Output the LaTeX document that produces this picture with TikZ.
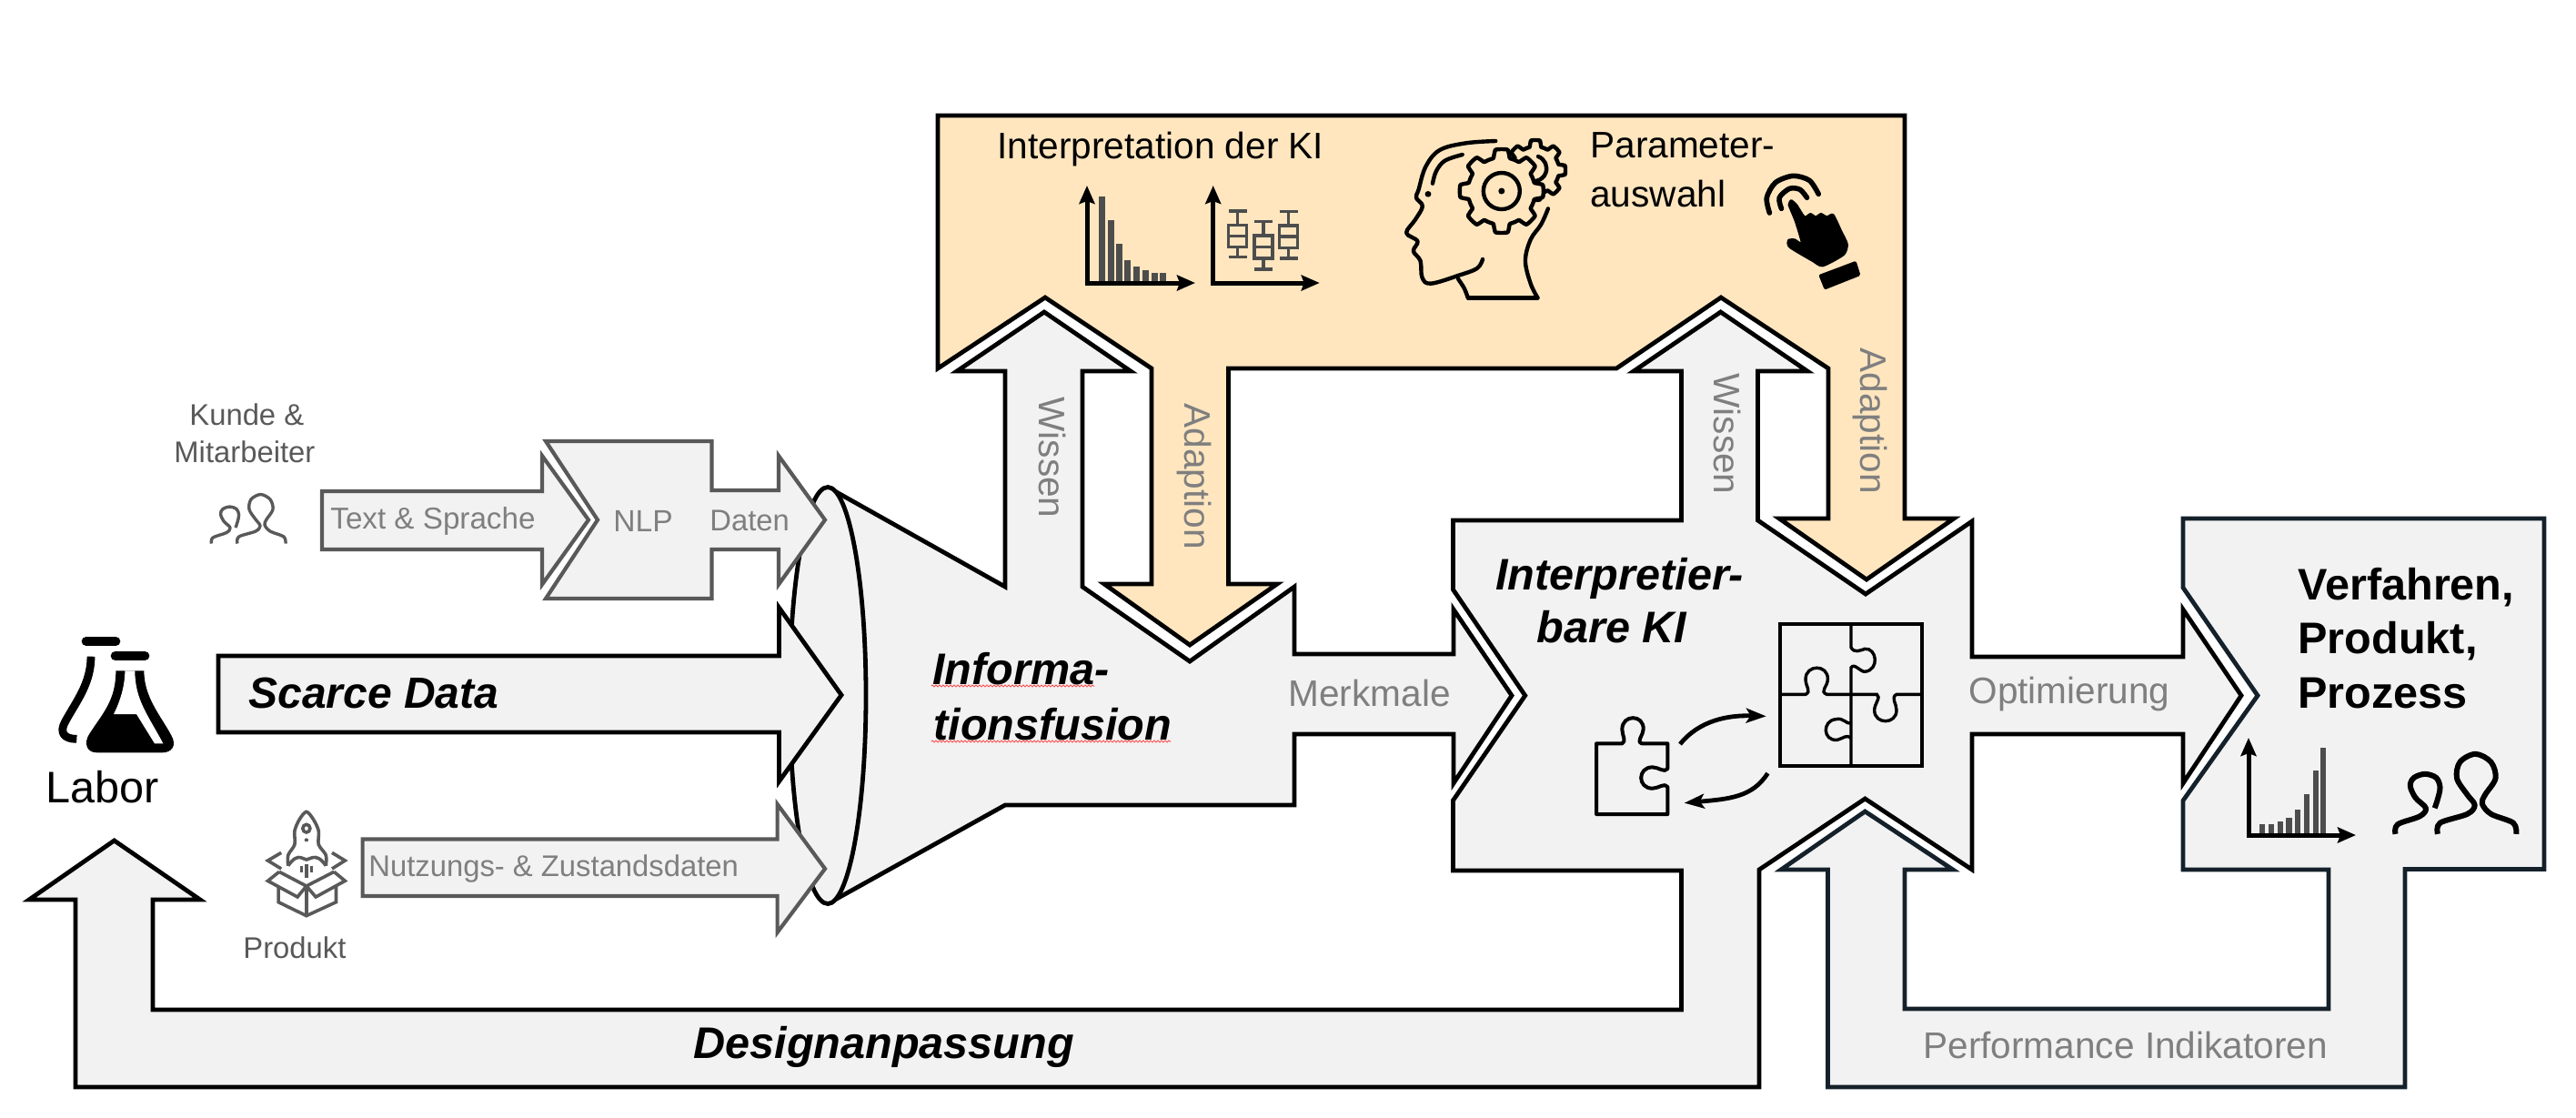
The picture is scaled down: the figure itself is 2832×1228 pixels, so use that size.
\documentclass[tikz,border=0pt]{standalone}
\usepackage{fontspec}
\setmainfont{Liberation Sans}
\usetikzlibrary{arrows.meta,decorations.pathmorphing}
\definecolor{oran}{HTML}{FFE6BF}
\definecolor{pale}{HTML}{F2F2F2}
\definecolor{dgrey}{HTML}{595959}
\definecolor{lgrey}{HTML}{7F7F7F}
\definecolor{navy}{HTML}{14212B}
\definecolor{barc}{HTML}{4D4D4D}
\definecolor{wave}{HTML}{FF4D4D}
\newcommand{\fsz}[1]{\fontsize{#1}{#1}\selectfont}
\tikzset{
  bigshape/.style={draw=black,line width=2.4pt,miter limit=20},
  greyshape/.style={draw=dgrey,fill=pale,line width=2.1pt,miter limit=20},
  txt/.style={inner sep=0pt,anchor=base west},
  big/.style={txt,font=\fsz{24.3}\bfseries\itshape,text=black},
  mid/.style={txt,font=\fsz{20.3},text=black},
  midg/.style={txt,font=\fsz{20.3},text=lgrey},
  smallg/.style={txt,font=\fsz{16.4},text=lgrey},
  smalld/.style={txt,font=\fsz{16.4},text=dgrey},
  axis/.style={line width=2.5pt,-{Stealth[length=10pt,width=8.5pt,inset=1.5pt]}},
  bar/.style={draw=none,fill=barc},
  boxp/.style={draw=barc,line width=1.6pt},
  icon/.style={draw=black,line width=2.2pt,line cap=round,line join=round},
  squig/.style={draw=wave,line width=0.5pt,decorate,decoration={zigzag,segment length=2pt,amplitude=0.5pt}}
}
\newcommand{\gearicon}[4]{%
  \draw[icon,fill=oran] plot[domain=0:360,samples=241,variable=\t]
   ({#1+(#4+(#3-#4)*max(0,min(1,0.5+1.4*cos(8*\t))))*cos(\t)},
    {#2+(#4+(#3-#4)*max(0,min(1,0.5+1.4*cos(8*\t))))*sin(\t)}) -- cycle;}
\newcommand{\peopleicon}[5]{%
  \begin{scope}[shift={(#1,#2)},scale=#3]
  \draw[draw=#4,line width=#5,line cap=butt,line join=round] plot[smooth,tension=0.55] coordinates
   {(30,54.5) (31.6,47) (50,41) (55,35) (50,28) (43,17) (45,6) (55.5,0.5) (66,6) (69,17) (62,28) (60,34) (66,41) (81,47) (83,54.5)};
  \draw[draw=#4,line width=#5,line cap=butt,line join=round] plot[smooth,tension=0.55] coordinates
   {(1.5,54.5) (3,48) (18,42.5) (22,37) (15,30) (11.5,22) (14,16.5) (21.5,14) (29,16.5) (31.6,23) (30,31) (28,37)};
  \end{scope}}
\begin{document}
\begin{tikzpicture}[x=0.5pt,y=-0.5pt]
\useasboundingbox (0,0) rectangle (2832,1228);

% orange adaptation block
\draw[bigshape,fill=oran] (1031,127) -- (2094,127) -- (2094,570) -- (2148,570) -- (2052,637) -- (1956,570) -- (2010,570) -- (2010,405) -- (1892,327) -- (1777,405) -- (1350.5,405) -- (1350.5,642) -- (1404,642) -- (1308,709) -- (1214,642) -- (1266,642) -- (1266,405) -- (1149,327) -- (1031,405) -- cycle;

% funnel with Wissen and Merkmale
\fill[pale] (909,535) -- (1105,645) -- (1105,408) -- (1052,408) -- (1148,343) -- (1243,408) -- (1190,408) -- (1190,645) -- (1308,727) -- (1423,645) -- (1423,719) -- (1598,719) -- (1598,670) -- (1662,764.6) -- (1598,861) -- (1598,807) -- (1423,807) -- (1423,885) -- (1105,885) -- (909,994) -- cycle;
\draw[bigshape] (909,535) -- (1105,645) -- (1105,408) -- (1052,408) -- (1148,343) -- (1243,408) -- (1190,408) -- (1190,645) -- (1308,727) -- (1423,645) -- (1423,719) -- (1598,719) -- (1598,670) -- (1662,764.6) -- (1598,861) -- (1598,807) -- (1423,807) -- (1423,885) -- (1105,885) -- (909,994);
\draw[bigshape,fill=pale] (910,764.5) ellipse [x radius=42,y radius=229];

% input arrows
\draw[bigshape,fill=pale] (240,721) -- (856.5,721) -- (856.5,668) -- (925,764) -- (856.5,859) -- (856.5,805) -- (240,805) -- cycle;
\draw[greyshape] (354,540) -- (596,540) -- (596,501) -- (647,571.5) -- (596,642.5) -- (596,604) -- (354,604) -- cycle;
\draw[greyshape] (600,485) -- (782.5,485) -- (782.5,539) -- (856,539) -- (856,501) -- (907,571.5) -- (856,642.5) -- (856,604) -- (782.5,604) -- (782.5,658) -- (600,658) -- (657,571.5) -- cycle;
\draw[greyshape] (398.6,922.5) -- (854.6,922.5) -- (854.6,884) -- (907,955) -- (854.6,1025) -- (854.6,985) -- (398.6,985) -- cycle;

% interpretable AI block with design feedback
\draw[bigshape,fill=pale] (1597.4,572) -- (1848.5,572) -- (1848.5,408) -- (1796,408) -- (1891.6,343) -- (1987,408) -- (1932.5,408) -- (1932.5,572) -- (2051,653) -- (2168,573) -- (2168,722) -- (2400,722) -- (2400,670) -- (2464,764.6) -- (2400,861) -- (2400,807) -- (2168,807) -- (2168,956) -- (2050.4,878) -- (1934,956) -- (1934,1195) -- (83,1195) -- (83,989) -- (32,989) -- (125.6,924) -- (220,989) -- (168,989) -- (168,1110) -- (1848.5,1110) -- (1848.5,957) -- (1597.4,957) -- (1597.4,880) -- (1676.7,764.6) -- (1597.4,648) -- cycle;

% result block with performance feedback
\draw[bigshape,draw=navy,fill=pale] (2050.4,892) -- (2147,956) -- (2094,956) -- (2094,1109) -- (2560,1109) -- (2560,956) -- (2400,956) -- (2400,880) -- (2482,764.6) -- (2400,646) -- (2400,570) -- (2797,570) -- (2797,955.4) -- (2644,955.4) -- (2644,1195) -- (2009.5,1195) -- (2009.5,956) -- (1958,956) -- cycle;

% labels
\node[big,font=\fsz{24}\bfseries\itshape] (scarce) at (273,778) {Scarce Data};
\node[big] (info1) at (1025,752) {Informa-};
\node[big] (info2) at (1026,813) {tionsfusion};
\draw[squig] (1024,754) -- (1203,754);
\draw[squig] (1024,815) -- (1287,815);
\node[big] (ki1) at (1644,648) {Interpretier-};
\node[big] (ki2) at (1689,706) {bare KI};
\node[big] (design) at (762,1163) {Designanpassung};
\node[txt,font=\fsz{24.3}\bfseries] (res1) at (2526,659) {Verfahren,};
\node[txt,font=\fsz{24.3}\bfseries] (res2) at (2526,718) {Produkt,};
\node[txt,font=\fsz{24.3}\bfseries] (res3) at (2526,778) {Prozess};
\node[txt,font=\fsz{24.3}] (labor) at (50,882) {Labor};
\node[mid] (interp) at (1096,174) {Interpretation der KI};
\node[mid] (para1) at (1748,173) {Parameter-};
\node[mid] (para2) at (1748,227) {auswahl};
\node[midg,rotate=-90] (wis1) at (1142,436) {Wissen};
\node[midg,rotate=-90] (ada1) at (1302,443) {Adaption};
\node[midg,rotate=-90] (wis2) at (1884,410) {Wissen};
\node[midg,rotate=-90] (ada2) at (2045,382) {Adaption};
\node[midg] (merk) at (1416,776) {Merkmale};
\node[midg] (opti) at (2164,773) {Optimierung};
\node[midg] (perf) at (2114,1163) {Performance Indikatoren};
\node[smallg,font=\fsz{16.6}] (text) at (363,581) {Text \& Sprache};
\node[smallg,font=\fsz{16.8}] (nlp) at (674,584) {NLP};
\node[smallg] (daten) at (780,583) {Daten};
\node[smallg] (nutz) at (405,963) {Nutzungs- \& Zustandsdaten};
\node[smalld] (kunde) at (208,467) {Kunde \&};
\node[smalld] (mitar) at (191,508) {Mitarbeiter};
\node[smalld] (prod) at (267,1053) {Produkt};

% chart: decay
\foreach \bx/\by in {214/78,244/155,271/235,298/287,328/310,358/322,388/330,415/330}
  \fill[bar] ({1140+\bx/3-3.5},{190+\by/3}) rectangle ({1140+\bx/3+3.5},311);
\draw[axis] (1195,311) -- (1195,204);
\draw[axis] (1192.5,311) -- (1314,311);
% chart: box plots
\foreach \cx/\capt/\boxt/\boxm/\boxb/\capb in {1360.7/232/247.3/259.3/271.7/282.7,1389/243.7/259/271.7/284/296,1416.7/232.7/248/260/272.7/284}{
  \draw[boxp] (\cx-10,\capt) -- (\cx+10,\capt) (\cx,\capt) -- (\cx,\boxt)
     (\cx-10,\boxt) rectangle (\cx+10,\boxb) (\cx-10,\boxm) -- (\cx+10,\boxm)
     (\cx,\boxb) -- (\cx,\capb) (\cx-10,\capb) -- (\cx+10,\capb);
}
\draw[axis] (1333.7,311) -- (1333.7,204);
\draw[axis] (1331,311) -- (1450.7,311);

% head with gears
\begin{scope}[shift={(1500,130)},x=0.1923pt,y=-0.16667pt]
\draw[icon] plot[smooth,tension=0.6] coordinates {(375,75) (290,82) (215,105) (175,160) (155,235) (148,262) (166,290) (145,335) (120,378) (152,405) (140,438) (160,470) (165,525) (190,545) (270,518) (322,495) (338,465)};
\draw[icon] plot[smooth,tension=0.6] coordinates {(280,120) (230,140) (205,175) (195,215)};
\draw[icon] plot[smooth,tension=0.6] coordinates {(525,298) (505,350) (475,400) (460,470) (475,545) (495,592)};
\draw[icon] plot[smooth] coordinates {(268,530) (285,560) (296,592)};
\draw[icon] (296,592) -- (495,592);
\fill (182,250) ellipse [x radius=9,y radius=10];
\end{scope}
\gearicon{1688}{187}{33}{26}
\draw[icon] (1691,172) arc (-70:80:14);
\gearicon{1650.8}{210}{46}{37}
\draw[icon] (1650.8,210) circle (20);
\fill (1650.8,210) circle (3.5);

% pointing hand
\begin{scope}[shift={(1500,130)},x=0.1923pt,y=-0.16667pt]
\draw[icon,line width=2.8pt] plot[smooth] coordinates {(1158,312) (1150,262) (1175,212) (1225,190) (1272,205) (1298,250)};
\draw[icon,line width=2.8pt] plot[smooth] coordinates {(1192,298) (1186,262) (1215,232) (1245,235) (1265,262)};
\fill[line join=round,draw=black,line width=1pt] plot[smooth,tension=0.4] coordinates {(1220,270) (1235,285) (1258,325) (1275,315) (1290,325) (1305,315) (1322,325) (1340,318) (1362,370) (1380,415) (1370,450) (1310,487) (1280,470) (1215,425) (1212,402) (1230,400) (1250,412) (1232,340) (1213,285) (1220,270)};
\fill[draw=black,line join=round,line width=2pt] (1305,520) -- (1402,478) -- (1412,515) -- (1318,558) -- cycle;
\end{scope}

% flasks
\begin{scope}[shift={(20,680)},x=0.16667pt,y=-0.16667pt]
\draw[icon,line width=5pt] (224,75) -- (322,75);
\draw[icon,line width=5pt] (320,123) -- (418,123);
\draw[line width=4.4pt,draw=black,line join=round] (240,125) .. controls (240,215) and (190,275) .. (155,340) .. controls (135,375) and (150,397) .. (193,397);
\fill (322,172) -- (352,172) -- (385,172) -- (415,172) .. controls (415,260) and (470,320) .. (505,385) .. controls (525,420) and (505,442) .. (475,442) -- (260,442) .. controls (225,442) and (215,410) .. (235,380) .. controls (280,310) and (322,270) .. (322,172) -- cycle;
\fill[white] (352,172) .. controls (352,225) and (335,275) .. (315,315) -- (390,315) -- (450,412) -- (478,412) .. controls (430,320) and (385,270) .. (385,172) -- cycle;
\end{scope}

% people
\peopleicon{231}{543}{1}{dgrey}{1.7pt}
\peopleicon{2631}{828}{1.63}{black}{3pt}

% chart: result
\foreach \bx/\by in {2487/906,2497/906,2507/903,2516.5/899,2526/890,2536/873,2546/847,2554/822}
  \fill[bar] (\bx-3.3,\by) rectangle (\bx+3.3,918);
\draw[axis] (2472,919) -- (2472,811);
\draw[axis] (2469.5,918) -- (2590,918);

% rocket in a box
\begin{scope}[shift={(240,860)},x=0.22321pt,y=-0.16667pt,draw=dgrey,line width=1.8pt,line join=miter]
\draw plot[smooth,tension=0.5] coordinates {(172,275) (172,240) (188,205) (188,160) (200,122) (217,97) (234,122) (247,160) (247,205) (265,240) (265,275)};
\draw (172,275) .. controls (185,250) and (195,245) .. (203,248) -- (217,255) -- (232,248) .. controls (242,245) and (252,250) .. (265,275);
\draw (217,152) ellipse [x radius=9,y radius=13];
\fill[dgrey] (217,190) ellipse [x radius=5,y radius=6];
\draw (205,275) -- (205,297) (217,270) -- (217,315) (230,275) -- (230,297);
\draw (148,345) -- (148,395) -- (217,440) -- (290,395) -- (290,345);
\draw (217,342) -- (217,440);
\draw (150,295) -- (122,325) -- (195,378) -- (217,342) -- (150,295);
\draw (285,295) -- (312,325) -- (240,378) -- (217,342) -- (285,295);
\draw (155,232) -- (122,258) -- (155,285);
\draw (280,232) -- (312,258) -- (280,285);
\end{scope}

% puzzle
\begin{scope}[shift={(1720,660)},x=0.16667pt,y=-0.16667pt,line width=1.7pt]
\draw[black,line width=2pt] (710,77) rectangle (1180,545);
\draw (945,77) -- (945,155) .. controls (955,175) and (975,165) .. (990,160) .. controls (1030,155) and (1040,230) .. (990,235) .. controls (975,235) and (955,205) .. (945,222) -- (945,545);
\draw (710,310) -- (795,310) .. controls (815,300) and (795,285) .. (795,260) .. controls (795,210) and (870,210) .. (868,260) .. controls (868,285) and (840,300) .. (865,310) -- (1030,310) .. controls (1045,320) and (1022,340) .. (1022,362) .. controls (1022,410) and (1095,410) .. (1095,362) .. controls (1095,340) and (1075,320) .. (1095,310) -- (1180,310);
\draw (945,405) .. controls (930,410) and (920,385) .. (895,392) .. controls (850,395) and (850,465) .. (900,460) .. controls (920,455) and (930,440) .. (945,455);
\draw[line width=2pt,line join=round] (105,472) -- (190,472) .. controls (205,465) and (190,445) .. (190,425) .. controls (190,375) and (262,375) .. (260,425) .. controls (260,445) and (235,465) .. (255,472) -- (340,472) -- (340,555) .. controls (330,570) and (310,550) .. (290,550) .. controls (240,550) and (240,620) .. (290,620) .. controls (310,620) and (330,600) .. (340,615) -- (340,705) -- (105,705) -- cycle;
\draw[line width=2.4pt,-{Stealth[length=11pt,width=8pt,inset=2.5pt]}] (381,474) .. controls (445,395) and (540,378) .. (665,382);
\draw[line width=2.4pt,-{Stealth[length=11pt,width=8pt,inset=2.5pt]}] (670,570) .. controls (620,650) and (540,655) .. (395,668);
\end{scope}
\end{tikzpicture}
\end{document}
